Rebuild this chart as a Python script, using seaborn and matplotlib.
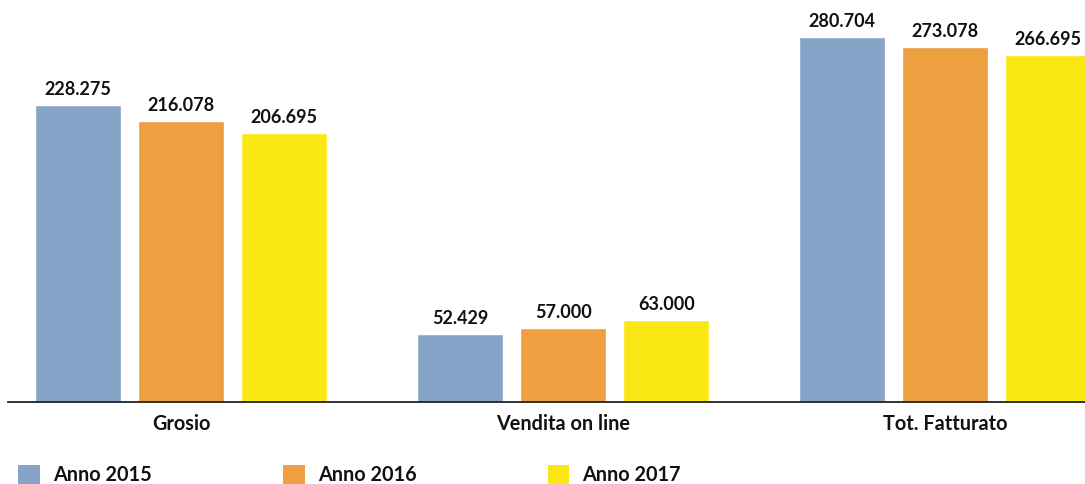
import pandas as pd
import matplotlib.pyplot as plt
import seaborn as sns
from matplotlib.patches import Patch

# --- dati ---
categorie = ['Grosio', 'Vendita on line', 'Tot. Fatturato']
anni = ['Anno 2015', 'Anno 2016', 'Anno 2017']
valori_2015 = [228275, 52429, 280704]
valori_2016 = [216078, 57000, 273078]
valori_2017 = [206695, 63000, 266695]
colori = ['#86a3c8', '#ee9f40', '#fbe714']

df = pd.DataFrame({
    'categoria': categorie * 3,
    'anno': [anni[0]] * 3 + [anni[1]] * 3 + [anni[2]] * 3,
    'valore': valori_2015 + valori_2016 + valori_2017,
})

sns.set_style('white')
# Lato ha un file Bold statico, i variabili non danno il grassetto
plt.rcParams['font.family'] = ['Lato', 'DejaVu Sans']
plt.rcParams['font.weight'] = 'bold'

fig = plt.figure(figsize=(10.85, 4.84), dpi=100)
ax = fig.add_axes([8 / 1085, 82 / 484, 1077 / 1085, 402 / 484])

sns.barplot(data=df, x='categoria', y='valore', hue='anno', palette=colori,
            width=0.81, gap=0.167, saturation=1, ax=ax, legend=False)

# etichette con il separatore delle migliaia all'italiana
for cont in ax.containers:
    ax.bar_label(cont, labels=[f'{int(v):,}'.replace(',', '.') for v in cont.datavalues],
                 padding=5, fontsize=13, fontweight='bold', color='#111111')

ax.set_ylim(0, 309000)
ax.set_xlim(-0.453, 2.366)
ax.set_xlabel('')
ax.set_ylabel('')
ax.set_yticks([])
ax.tick_params(axis='x', length=0, pad=9, labelsize=14.3, labelcolor='#111111')
for lab in ax.get_xticklabels():
    lab.set_fontweight('bold')
for lato in ['top', 'right', 'left']:
    ax.spines[lato].set_visible(False)
ax.spines['bottom'].set_color('#222222')
ax.spines['bottom'].set_linewidth(1.3)

handles = [Patch(facecolor=c, edgecolor='none') for c in colori]
leg = fig.legend(handles, anni, loc='center left', bbox_to_anchor=(0.017, 0.019), ncol=3,
                 frameon=False, fontsize=14.3, handlelength=1.1, handleheight=1.1,
                 handletextpad=0.65, columnspacing=6.6, borderaxespad=0, borderpad=0)
for t in leg.get_texts():
    t.set_color('#111111')

plt.savefig('out.png', dpi=100)
